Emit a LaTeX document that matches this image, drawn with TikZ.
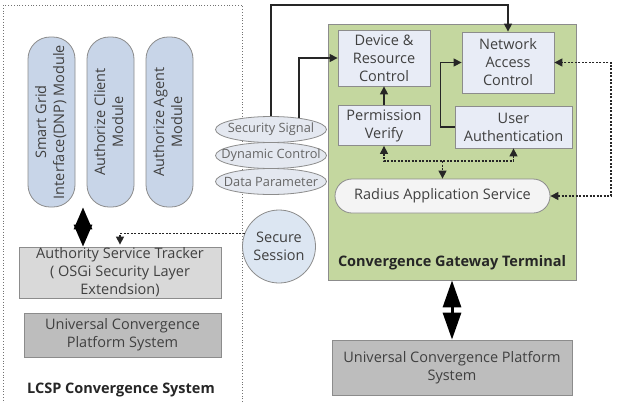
\documentclass[tikz,border=0pt]{standalone}
\usepackage{fontspec}
\setmainfont{Open Sans}
\usetikzlibrary{arrows.meta,shapes.geometric,backgrounds}
\definecolor{txt}{HTML}{404040}
\definecolor{bord}{HTML}{8C8C8C}
\definecolor{modfill}{HTML}{C8D5E8}
\definecolor{boxfill}{HTML}{E8ECF6}
\definecolor{green}{HTML}{C4D79F}
\definecolor{ellfill}{HTML}{E4E8F0}
\definecolor{sessfill}{HTML}{DCE6F2}
\definecolor{astfill}{HTML}{D9D9D9}
\definecolor{platfill}{HTML}{BDBDBD}
\definecolor{radfill}{HTML}{F4F4F4}
\newcommand{\zbox}[1]{\makebox[0pt]{#1}}
\begin{document}
\begin{tikzpicture}[x=1pt,y=-1pt,
  every node/.style={text=txt, font=\fontsize{14.5}{18}\selectfont, align=center, inner sep=0pt},
  module/.style={draw=bord, fill=modfill, line width=0.8pt, minimum width=47pt, minimum height=170pt, rounded corners=22pt},
  gbox/.style={draw=bord, fill=boxfill, line width=0.8pt},
  ell/.style={ellipse, draw=bord, fill=ellfill, line width=0.8pt, minimum width=111pt, minimum height=26pt, text=black!60, font=\fontsize{12.8}{14}\selectfont},
  arr/.style={draw=black!85, line width=1.3pt, -{Triangle[length=8pt,width=8pt]}},
  dsh/.style={draw=black!85, line width=1.3pt, dash pattern=on 2pt off 1.5pt},
  dbl/.style={draw=black, line width=3pt, {Triangle[length=22pt,width=18pt]}-{Triangle[length=22pt,width=18pt]}},
  title/.style={font=\bfseries\fontsize{14.5}{16}\selectfont, text=black!85}
]
\useasboundingbox (0,0) rectangle (617,402);
\fill[white] (0,0) rectangle (617,402);

% left system
\draw[draw=black!55, line width=0.8pt, dotted] (3,5) rectangle (242,420);
\node[module] (sg) at (51.5,122) {\rotatebox{90}{\begin{tabular}{@{}c@{}}Smart Grid\\Interface(DNP) Module\end{tabular}}};
\node[module] (ac) at (110.5,122) {\rotatebox{90}{\begin{tabular}{@{}c@{}}Authorize Client\\Module\end{tabular}}};
\node[module] (ag) at (169.5,122) {\rotatebox{90}{\begin{tabular}{@{}c@{}}Authorize Agent\\Module\end{tabular}}};
\node[draw=bord, fill=astfill, line width=0.8pt, minimum width=202pt, minimum height=51pt] (ast) at (120,272.5) {Authority Service Tracker\\( OSGi Security Layer\\Extendsion)};
\node[draw=bord, fill=platfill, line width=0.8pt, minimum width=197pt, minimum height=44pt] (lp) at (122.5,335) {Universal Convergence\\Platform System};
\node[title] (lt) at (121,390) {LCSP Convergence System};

% right gateway
\node[draw=bord, fill=green, line width=0.8pt, minimum width=248pt, minimum height=256pt] (gt) at (452,152) {};
\node[title] (gtl) at (452,263) {Convergence Gateway Terminal};
\node[gbox, minimum width=92pt, minimum height=56pt] (dr) at (384,58) {Device \&\\Resource\\Control};
\node[gbox, minimum width=92pt, minimum height=61pt] (na) at (508,62.5) {Network\\Access\\Control};
\node[gbox, minimum width=92pt, minimum height=40pt] (pv) at (384,125.5) {Permission\\Verify};
\node[gbox, minimum width=117pt, minimum height=42pt] (ua) at (513.5,127) {User\\Authentication};
\node[draw=bord, fill=radfill, line width=0.8pt, minimum width=215pt, minimum height=34pt, rounded corners=17pt] (ra) at (442.5,196) {Radius Application Service};
\node[draw=bord, fill=platfill, line width=0.8pt, minimum width=240pt, minimum height=55pt] (rp) at (452,367.5) {Universal Convergence Platform\\System};

% middle
\node[ell] (ss) at (271,129.5) {\zbox{Security Signal}};
\node[ell] (dc) at (271,155.5) {\zbox{Dynamic Control}};
\node[ell] (dp) at (271,181.5) {\zbox{Data Parameter}};
\node[circle, draw=bord, fill=sessfill, line width=0.8pt, minimum size=73pt] (sess) at (279,246.5) {Secure\\Session};

% connectors
\coordinate (tp) at (0,5);
\coordinate (rr) at (611,0);
\coordinate (ad) at (120,0);
\coordinate (da) at (83,0);
\coordinate (dl) at (0,161);
\draw[arr] (ss.north) -- (ss.north |- tp) -| (na.north);
\draw[arr] ([xshift=28pt,yshift=-1.7pt]ss.north) |- (dr.west);
\draw[arr] (pv.north) -- (dr.south);
\draw[arr] (ua.west) -- ++(-14,0) |- (na.west);
\draw[dsh, {Triangle[length=8pt,width=8pt]}-{Triangle[length=8pt,width=8pt]}] (pv.south) -- (pv.south |- dl) -- (ua.south |- dl) -- (ua.south);
\draw[dsh, -{Triangle[length=8pt,width=8pt]}] (ra.north |- dl) -- (ra.north);
\draw[dsh, {Triangle[length=8pt,width=8pt]}-{Triangle[length=8pt,width=8pt]}] (ra.east) -- (ra.east -| rr) |- (na.east);
\draw[dsh, -{Triangle[length=8pt,width=8pt]}] (sess.159) -| ([yshift=2pt]ad |- ast.north);
\draw[dbl] (da |- sg.south) -- (da |- ast.north);
\draw[dbl, {Triangle[length=27pt,width=18pt]}-{Triangle[length=27pt,width=18pt]}] (gt.south) -- (rp.north);
\end{tikzpicture}
\end{document}
